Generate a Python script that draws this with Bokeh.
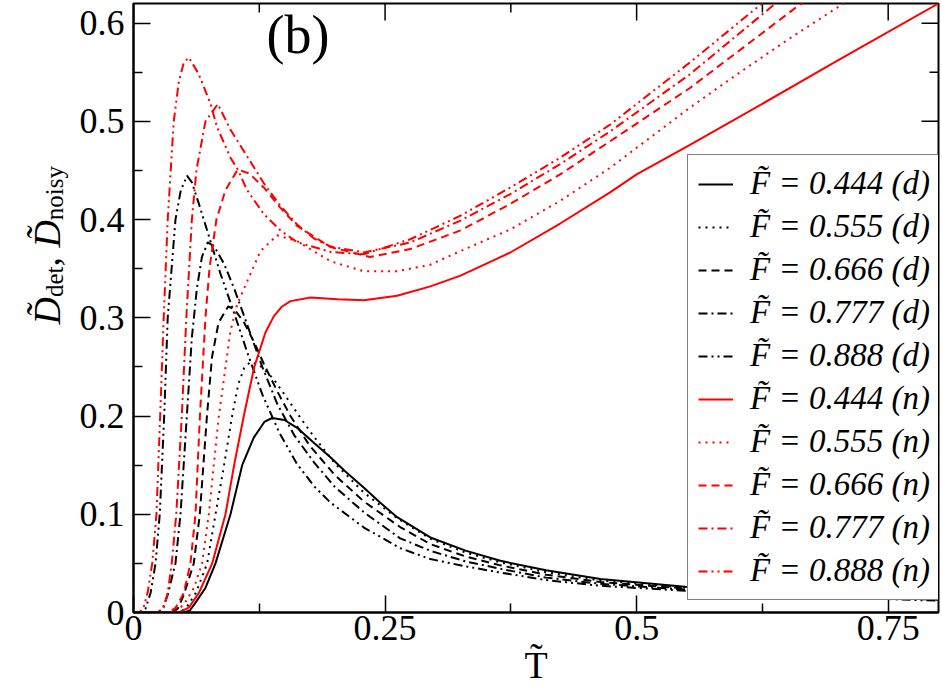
import math
from bokeh.plotting import figure
from bokeh.layouts import row
from bokeh.models import Legend, LegendItem, Label, FixedTicker, Range1d
from bokeh.embed import file_html
from bokeh.resources import INLINE

# ---------------- data ----------------
F_values = ["0.444", "0.555", "0.666", "0.777", "0.888"]

T_det_444 = [0.0, 0.05, 0.056, 0.0616, 0.0715, 0.0815, 0.0964, 0.108, 0.1195, 0.13, 0.1378, 0.15, 0.1626, 0.18, 0.1957, 0.21, 0.229, 0.245, 0.262, 0.295, 0.33, 0.3646, 0.41, 0.464, 0.548, 0.65, 0.8]
D_det_444 = [0.0, 0.0, 0.002, 0.01, 0.025, 0.05, 0.1, 0.15, 0.178, 0.194, 0.198, 0.196, 0.188, 0.172, 0.158, 0.144, 0.127, 0.112, 0.097, 0.0764, 0.063, 0.0526, 0.043, 0.034, 0.0262, 0.02, 0.015]

T_det_555 = [0.0, 0.045, 0.052, 0.062, 0.0732, 0.0815, 0.09, 0.098, 0.104, 0.11, 0.116, 0.125, 0.139, 0.15, 0.166, 0.18, 0.2, 0.229, 0.262, 0.295, 0.33, 0.3646, 0.41, 0.464, 0.548, 0.65, 0.8]
D_det_555 = [0.0, 0.0, 0.004, 0.02, 0.05, 0.1, 0.15, 0.2, 0.232, 0.249, 0.255, 0.252, 0.238, 0.222, 0.198, 0.178, 0.152, 0.122, 0.096, 0.075, 0.061, 0.051, 0.041, 0.0325, 0.0255, 0.0195, 0.0145]

T_det_666 = [0.0, 0.038, 0.044, 0.05, 0.0599, 0.0659, 0.073, 0.078, 0.0845, 0.094, 0.1, 0.11, 0.12, 0.13, 0.143, 0.156, 0.175, 0.2, 0.229, 0.265, 0.295, 0.33, 0.3646, 0.41, 0.464, 0.548, 0.65, 0.8]
D_det_666 = [0.0, 0.0, 0.004, 0.018, 0.05, 0.1, 0.2, 0.26, 0.295, 0.3115, 0.309, 0.295, 0.275, 0.252, 0.225, 0.2, 0.17, 0.14, 0.113, 0.087, 0.0696, 0.057, 0.048, 0.0385, 0.031, 0.0245, 0.0185, 0.0135]

T_det_777 = [0.0, 0.024, 0.029, 0.034, 0.0417, 0.0467, 0.053, 0.058, 0.063, 0.068, 0.0738, 0.08, 0.09, 0.1, 0.113, 0.128, 0.143, 0.16, 0.18, 0.2, 0.229, 0.265, 0.295, 0.33, 0.3646, 0.41, 0.464, 0.548, 0.65, 0.8]
D_det_777 = [0.0, 0.0, 0.004, 0.018, 0.05, 0.1, 0.2, 0.28, 0.33, 0.362, 0.3767, 0.373, 0.355, 0.33, 0.293, 0.25, 0.212, 0.18, 0.152, 0.128, 0.102, 0.0755, 0.0628, 0.052, 0.0445, 0.0355, 0.0292, 0.0233, 0.0178, 0.013]

T_det_888 = [0.0, 0.008, 0.012, 0.017, 0.0219, 0.0261, 0.0305, 0.034, 0.0417, 0.047, 0.0533, 0.058, 0.065, 0.0765, 0.0864, 0.1, 0.113, 0.128, 0.145, 0.1626, 0.18, 0.1957, 0.229, 0.265, 0.295, 0.33, 0.3646, 0.41, 0.464, 0.548, 0.65, 0.8]
D_det_888 = [0.0, 0.0, 0.004, 0.02, 0.05, 0.1, 0.2, 0.3, 0.4, 0.43, 0.4446, 0.438, 0.416, 0.378, 0.345, 0.305, 0.265, 0.222, 0.183, 0.151, 0.128, 0.112, 0.0865, 0.0655, 0.0544, 0.047, 0.0407, 0.033, 0.0272, 0.0221, 0.017, 0.012]

T_noisy_444 = [0.0, 0.045, 0.055, 0.065, 0.0782, 0.0914, 0.1, 0.1096, 0.12, 0.1311, 0.1394, 0.147, 0.156, 0.176, 0.2025, 0.229, 0.262, 0.295, 0.325, 0.3745, 0.424, 0.474, 0.5, 0.553, 0.603, 0.7, 0.8]
D_noisy_444 = [0.0, 0.0, 0.005, 0.02, 0.05, 0.1, 0.15, 0.2, 0.25, 0.285, 0.3015, 0.311, 0.317, 0.3207, 0.319, 0.318, 0.3225, 0.332, 0.343, 0.3665, 0.396, 0.428, 0.446, 0.476, 0.505, 0.562, 0.62]

T_noisy_555 = [0.0, 0.04, 0.05, 0.06, 0.0682, 0.0748, 0.0848, 0.0964, 0.103, 0.1129, 0.1262, 0.1427, 0.1626, 0.196, 0.229, 0.262, 0.2948, 0.325, 0.3745, 0.424, 0.474, 0.553, 0.6, 0.65, 0.7056, 0.76]
D_noisy_555 = [0.0, 0.0, 0.008, 0.025, 0.05, 0.1, 0.2, 0.287, 0.3135, 0.337, 0.368, 0.384, 0.378, 0.3575, 0.3474, 0.3474, 0.354, 0.368, 0.39, 0.419, 0.453, 0.514, 0.548, 0.583, 0.62, 0.66]

T_noisy_666 = [0.0, 0.035, 0.042, 0.05, 0.0566, 0.0616, 0.066, 0.0715, 0.0755, 0.0824, 0.0914, 0.1036, 0.115, 0.1295, 0.146, 0.1626, 0.196, 0.235, 0.275, 0.325, 0.3745, 0.424, 0.474, 0.553, 0.661, 0.7]
D_noisy_666 = [0.0, 0.0, 0.005, 0.02, 0.05, 0.1, 0.2, 0.3, 0.35, 0.4, 0.43, 0.451, 0.447, 0.4327, 0.412, 0.3935, 0.372, 0.362, 0.37, 0.389, 0.416, 0.446, 0.48, 0.534, 0.618, 0.645]

T_noisy_777 = [0.0, 0.025, 0.03, 0.034, 0.038, 0.0425, 0.048, 0.0525, 0.058, 0.0625, 0.0715, 0.0838, 0.0964, 0.1129, 0.1295, 0.146, 0.1626, 0.179, 0.196, 0.229, 0.275, 0.325, 0.3745, 0.424, 0.474, 0.553, 0.638, 0.68]
D_noisy_777 = [0.0, 0.0, 0.005, 0.02, 0.05, 0.1, 0.2, 0.3, 0.4, 0.45, 0.5, 0.5176, 0.4915, 0.4644, 0.437, 0.414, 0.395, 0.381, 0.3725, 0.3665, 0.3767, 0.399, 0.426, 0.4565, 0.49, 0.548, 0.62, 0.65]

T_noisy_888 = [0.0, 0.006, 0.01, 0.014, 0.0186, 0.0228, 0.0265, 0.03, 0.034, 0.04, 0.045, 0.05, 0.055, 0.0649, 0.0765, 0.0831, 0.0964, 0.1036, 0.1129, 0.1295, 0.146, 0.1626, 0.196, 0.229, 0.275, 0.325, 0.3745, 0.424, 0.474, 0.553, 0.6245, 0.66]
D_noisy_888 = [0.0, 0.0, 0.005, 0.02, 0.05, 0.1, 0.2, 0.3, 0.4, 0.5, 0.54, 0.56, 0.565, 0.548, 0.518, 0.494, 0.463, 0.451, 0.43, 0.4056, 0.389, 0.377, 0.367, 0.3647, 0.38, 0.404, 0.4327, 0.463, 0.497, 0.56, 0.62, 0.65]

x_ticks = [0.0, 0.25, 0.5, 0.75]
x_tick_labels = ["0", "0.25", "0.5", "0.75"]
x_minor = [0.125, 0.375, 0.625]
y_ticks = [0.0, 0.1, 0.2, 0.3, 0.4, 0.5, 0.6]
y_tick_labels = ["0", "0.1", "0.2", "0.3", "0.4", "0.5", "0.6"]
y_minor = [0.05, 0.15, 0.25, 0.35, 0.45, 0.55]
x_min, x_max = 0.0, 0.8
y_min, y_max = 0.0, 0.62

# ---------------- layout / styles ----------------
SERIF = "Liberation Serif"
dashes = ["solid", "2 5", "8 5", "9 4 2 4", "9 4 2 4 2 4"]
H = 688          # common height
LW = 70          # width of the y-label strip

# main figure
p = figure(width=870, height=H, x_range=Range1d(x_min, x_max), y_range=Range1d(y_min, y_max),
           output_backend="svg", toolbar_location=None,
           min_border_left=63, min_border_right=2, min_border_top=3, min_border_bottom=H - 3 - 609,
           background_fill_color="white", border_fill_color="white")
p.grid.visible = False
p.outline_line_color = "black"
p.outline_line_width = 2

for ax, ticks, minor, labels in ((p.xaxis[0], x_ticks, x_minor, x_tick_labels),
                                 (p.yaxis[0], y_ticks, y_minor, y_tick_labels)):
    ax.ticker = FixedTicker(ticks=ticks, minor_ticks=minor)
    ax.major_label_overrides = {v: s for v, s in zip(ticks, labels)}
    ax.axis_line_width = 2
    ax.major_tick_in = 17
    ax.major_tick_out = 0
    ax.minor_tick_in = 9
    ax.minor_tick_out = 0
    ax.major_tick_line_width = 1.5
    ax.minor_tick_line_width = 1.5
    ax.major_label_text_font = SERIF
    ax.major_label_text_font_size = "36px"
    ax.major_label_text_color = "black"
p.xaxis.major_label_standoff = 3
p.yaxis.major_label_standoff = 9
p.xaxis.axis_label = "T\u0303"
p.xaxis.axis_label_text_font = SERIF
p.xaxis.axis_label_text_font_size = "38px"
p.xaxis.axis_label_text_font_style = "normal"
p.xaxis.axis_label_text_color = "black"
p.xaxis.axis_label_standoff = 1

# mirrored inward ticks on top and right edges (half of each dash is clipped by the frame)
tick_kw = dict(marker="dash", line_color="black", line_width=1.5)
p.scatter(x=x_ticks, y=[y_max] * len(x_ticks), size=34, angle=math.pi / 2, **tick_kw)
p.scatter(x=x_minor, y=[y_max] * len(x_minor), size=18, angle=math.pi / 2, **tick_kw)
p.scatter(x=[x_max] * len(y_ticks), y=y_ticks, size=34, **tick_kw)
p.scatter(x=[x_max] * len(y_minor), y=y_minor, size=18, **tick_kw)

series = [
    (T_det_444, D_det_444, "black", 0, "d"),
    (T_det_555, D_det_555, "black", 1, "d"),
    (T_det_666, D_det_666, "black", 2, "d"),
    (T_det_777, D_det_777, "black", 3, "d"),
    (T_det_888, D_det_888, "black", 4, "d"),
    (T_noisy_444, D_noisy_444, "#ff0000", 0, "n"),
    (T_noisy_555, D_noisy_555, "#ff0000", 1, "n"),
    (T_noisy_666, D_noisy_666, "#ff0000", 2, "n"),
    (T_noisy_777, D_noisy_777, "#ff0000", 3, "n"),
    (T_noisy_888, D_noisy_888, "#ff0000", 4, "n"),
]

items = []
for T, D, col, k, tag in series:
    r = p.line(T, D, line_color=col, line_width=2, line_dash=dashes[k], line_join="round")
    items.append(LegendItem(label="F\u0303 = %s (%s)" % (F_values[k], tag), renderers=[r]))

legend = Legend(items=items, location=(554, 12), orientation="vertical",
                label_text_font=SERIF, label_text_font_style="italic",
                label_text_font_size="33px", label_text_color="black",
                glyph_width=35, glyph_height=20, label_standoff=17,
                padding=10, spacing=6, margin=0,
                border_line_color="black", border_line_width=1.5,
                background_fill_color="white", background_fill_alpha=1.0)
p.add_layout(legend)

# panel tag "(b)"  (page coords -> frame screen coords)
FL, FB = 133, 612
p.add_layout(Label(x=266 - FL, y=FB - 34, x_units="screen", y_units="screen", text="(b)",
                   text_font=SERIF, text_font_size="54px", text_color="black",
                   text_baseline="alphabetic"))

# y-label strip (its frame covers the whole strip, so labels are not clipped)
q = figure(width=LW, height=H, output_backend="svg", toolbar_location=None,
           x_range=Range1d(0, 1), y_range=Range1d(0, 1),
           x_axis_location=None, y_axis_location=None,
           min_border_left=0, min_border_right=0, min_border_top=0, min_border_bottom=0,
           background_fill_color="white", border_fill_color="white")
q.grid.visible = False
q.outline_line_color = None

def ylab(text, px, py, size, style="normal"):
    q.add_layout(Label(x=px, y=H - py, x_units="screen", y_units="screen",
                       text=text, text_font=SERIF, text_font_size="%dpx" % size,
                       text_font_style=style, text_color="black", angle=math.pi / 2,
                       text_align="left", text_baseline="alphabetic"))

ylab("D\u0303", 46, 400, 38, "italic")
ylab("det", 54, 372.6, 25)
ylab(",", 46, 342.1, 38)
ylab("D\u0303", 46, 323.1, 38, "italic")
ylab("noisy", 54, 295.7, 25)

layout = row(q, p)
open("out.html", "w").write(file_html(layout, INLINE))
